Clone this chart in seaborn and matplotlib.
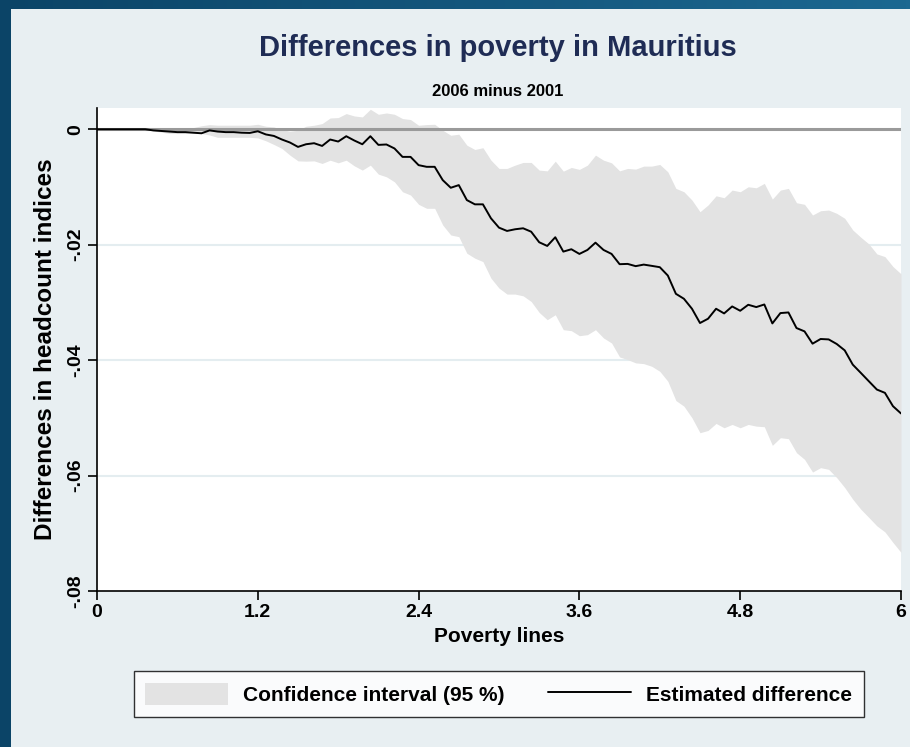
import numpy as np
import pandas as pd
import matplotlib
matplotlib.use("Agg")
import matplotlib.pyplot as plt
import seaborn as sns

# poverty lines 0 .. 6 in steps of 0.06 (101 points)
poverty_lines = [round(i * 0.06, 2) for i in range(101)]

estimate = [
    0, 0, 0, 0, 0, 0, 0, -0.0002, -0.0003, -0.0004,
    -0.0005, -0.0005, -0.0006, -0.0007, -0.0002, -0.0004, -0.0005, -0.0005, -0.0006, -0.00064,
    -0.00035, -0.0009, -0.00116, -0.00178, -0.0023, -0.00306, -0.0026, -0.00242, -0.00289, -0.00178,
    -0.00213, -0.00121, -0.00195, -0.0026, -0.00121, -0.00271, -0.00264, -0.00333, -0.00479, -0.00479,
    -0.00622, -0.00651, -0.00651, -0.00881, -0.01014, -0.00968, -0.01227, -0.01301, -0.01301, -0.01543,
    -0.01705, -0.01762, -0.01733, -0.01716, -0.01775, -0.01958, -0.02022, -0.01871, -0.0212, -0.02079,
    -0.0216, -0.02091, -0.01965, -0.02091, -0.0216, -0.02338, -0.02333, -0.02372, -0.02345, -0.02367,
    -0.0239, -0.02535, -0.02851, -0.02937, -0.0311, -0.03357, -0.03283, -0.0311, -0.03191, -0.0307,
    -0.03145, -0.03041, -0.03081, -0.03036, -0.03364, -0.03185, -0.03174, -0.03444, -0.03502, -0.03715,
    -0.03634, -0.03641, -0.0372, -0.03831, -0.04078, -0.04221, -0.04366, -0.0451, -0.04567, -0.04798,
    -0.04924,
]

ci_upper = [
    0, 0, 0, 0, 0, 0, 0, 0.0002, 0.0002, 0.0002,
    0.0002, 0.0002, 0.0003, 0.0006, 0.0008, 0.0007, 0.0007, 0.0007, 0.0007, 0.0007,
    0.00086, 0.00052, 0.0004, -0.00005, -0.00035, -0.00017, 0.00052, 0.00069, 0.00098, 0.00195,
    0.00202, 0.00271, 0.0023, 0.00213, 0.00346, 0.00259, 0.00282, 0.00259, 0.00185, 0.00168,
    0.00069, 0.00081, 0.00086, -0.00017, -0.00104, -0.00086, -0.00276, -0.00351, -0.0032, -0.00536,
    -0.00679, -0.00679, -0.00622, -0.00575, -0.00575, -0.00708, -0.00721, -0.00553, -0.00726, -0.00662,
    -0.00696, -0.00622, -0.00449, -0.00536, -0.00582, -0.00721, -0.00679, -0.00691, -0.00639, -0.00639,
    -0.0061, -0.00738, -0.01025, -0.01083, -0.01227, -0.01429, -0.01313, -0.01153, -0.01187, -0.01054,
    -0.01083, -0.00997, -0.01014, -0.00938, -0.0121, -0.01054, -0.01025, -0.01273, -0.01301, -0.01486,
    -0.01412, -0.014, -0.01457, -0.01543, -0.01745, -0.01871, -0.01987, -0.0216, -0.02207, -0.02379,
    -0.02505,
]

ci_lower = [
    0, 0, 0, 0, 0, 0, 0, -0.0003, -0.0005, -0.00074,
    -0.00074, -0.00074, -0.00074, -0.00074, -0.001, -0.0014, -0.0014, -0.0014, -0.0014, -0.0014,
    -0.0015, -0.002, -0.00264, -0.00333, -0.00449, -0.00548, -0.00553, -0.00548, -0.00593, -0.00536,
    -0.00582, -0.00536, -0.00634, -0.00708, -0.00622, -0.00778, -0.00824, -0.00911, -0.01083, -0.0114,
    -0.01301, -0.0137, -0.0137, -0.01659, -0.01832, -0.01861, -0.02148, -0.02234, -0.02293, -0.0258,
    -0.02752, -0.02856, -0.02856, -0.02886, -0.02984, -0.03174, -0.033, -0.03214, -0.03473, -0.0349,
    -0.03577, -0.03559, -0.03473, -0.03616, -0.03703, -0.03945, -0.03991, -0.04048, -0.04061, -0.04107,
    -0.04194, -0.04366, -0.047, -0.04798, -0.04999, -0.05258, -0.05218, -0.05097, -0.05172, -0.05114,
    -0.05172, -0.05114, -0.05144, -0.05154, -0.05477, -0.05344, -0.05361, -0.05603, -0.05719, -0.05939,
    -0.05863, -0.05892, -0.06035, -0.06208, -0.0641, -0.06583, -0.06726, -0.06872, -0.06976, -0.07159,
    -0.07331,
]

x_ticks = [0, 1.2, 2.4, 3.6, 4.8, 6]
x_ticklabels = ["0", "1.2", "2.4", "3.6", "4.8", "6"]
y_ticks = [0, -0.02, -0.04, -0.06, -0.08]
y_ticklabels = ["0", "-.02", "-.04", "-.06", "-.08"]

df = pd.DataFrame({"pl": poverty_lines, "est": estimate, "lo": ci_lower, "hi": ci_upper})

sns.set_style("white")
plt.rcParams["font.family"] = ["Liberation Sans", "DejaVu Sans"]
plt.rcParams["text.color"] = "black"
plt.rcParams["axes.labelcolor"] = "black"
plt.rcParams["xtick.color"] = "black"
plt.rcParams["ytick.color"] = "black"

bg = "#e8eff2"
fig = plt.figure(figsize=(9.10, 7.47), dpi=100, facecolor=bg)

# frame decorations: dark left bar and top gradient bar
left_bar = fig.add_axes([0, 0, 11 / 910, 1])
left_bar.set_axis_off()
left_bar.add_patch(plt.Rectangle((0, 0), 1, 1, color="#0b4467", transform=left_bar.transAxes))
top_bar = fig.add_axes([0, 1 - 9 / 747, 1, 9 / 747])
top_bar.set_axis_off()
grad = np.linspace(0, 1, 256).reshape(1, -1)
top_bar.imshow(grad, aspect="auto", cmap=matplotlib.colors.LinearSegmentedColormap.from_list(
    "bar", ["#0b4467", "#1c6891"]))

ax = fig.add_axes([97 / 910, 1 - 591 / 747, (901 - 97) / 910, (591 - 108) / 747])
ax.set_facecolor("white")

for yv in [-0.02, -0.04, -0.06]:
    ax.axhline(yv, color="#e4edf0", lw=1.5, zorder=0)

ax.fill_between(df["pl"], df["lo"], df["hi"], color="#e3e3e3", lw=0, zorder=1,
                label="Confidence interval (95 %)")
ax.axhline(0, color="#9a9a9a", lw=2.2, zorder=2)
sns.lineplot(data=df, x="pl", y="est", ax=ax, color="black", lw=1.4, zorder=3,
             label="Estimated difference")

ax.set_xlim(0, 6)
ax.set_ylim(-0.08, 0.00368)
ax.set_xticks(x_ticks)
ax.set_xticklabels(x_ticklabels, fontsize=14, fontweight="bold")
ax.set_yticks(y_ticks)
ax.set_yticklabels(y_ticklabels, fontsize=14, fontweight="bold", rotation=90, va="center")
ax.tick_params(axis="both", direction="out", length=6.5, width=1.2, color="black", pad=3,
               left=True, bottom=True)
for side in ["top", "right"]:
    ax.spines[side].set_visible(False)
for side in ["left", "bottom"]:
    ax.spines[side].set_color("black")
    ax.spines[side].set_linewidth(1.2)

ax.set_xlabel("Poverty lines", fontsize=15, fontweight="bold", labelpad=4)
ax.set_ylabel("Differences in headcount indices", fontsize=17.5, fontweight="bold", labelpad=7)

fig.text(0.547, 1 - 48 / 747, "Differences in poverty in Mauritius", ha="center", va="center",
         fontsize=21, fontweight="bold", color="#1f2c55")
fig.text(0.547, 1 - 91 / 747, "2006 minus 2001", ha="center", va="center",
         fontsize=12, fontweight="bold", color="black")

handles, labels = ax.get_legend_handles_labels()
leg = fig.legend(handles, labels, loc="center", bbox_to_anchor=(498.5 / 910, 1 - 694 / 747),
                 ncol=2, frameon=True, fancybox=False, edgecolor="black", facecolor="white",
                 prop={"size": 15, "weight": "bold"}, handlelength=4, handleheight=1.3,
                 handletextpad=0.7, columnspacing=2.1, borderpad=0.55, borderaxespad=0)
leg.get_frame().set_linewidth(1.0)
if ax.get_legend():
    ax.get_legend().remove()

fig.savefig("out.png", dpi=100, facecolor=bg)
